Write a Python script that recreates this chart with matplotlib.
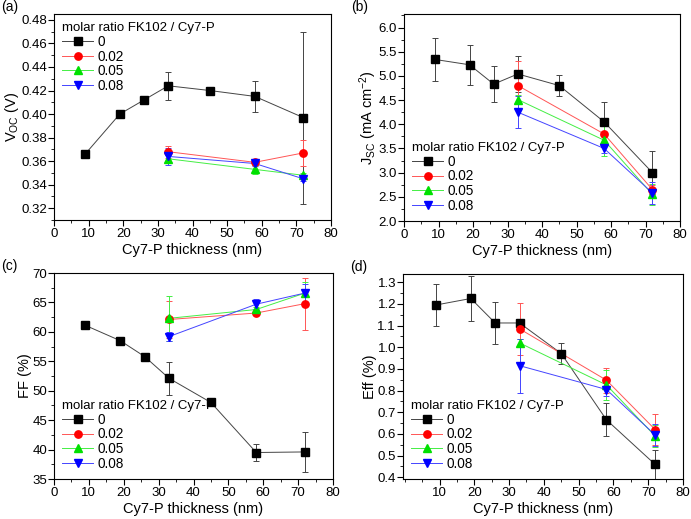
import numpy as np
import matplotlib
matplotlib.use("Agg")
import matplotlib.pyplot as plt
from matplotlib.lines import Line2D
from matplotlib.ticker import AutoMinorLocator

plt.rcParams['font.family'] = ['Liberation Sans', 'DejaVu Sans']
plt.rcParams['mathtext.fontset'] = 'custom'
plt.rcParams['mathtext.rm'] = 'Liberation Sans'
plt.rcParams['mathtext.it'] = 'Liberation Sans'

# thickness (nm)
x0 = [9, 19, 26, 33, 45, 58, 72]
x1 = [33, 58, 72]
ratios = ["0", "0.02", "0.05", "0.08"]

# (a) Voc (V)
voc = [[0.366, 0.400, 0.412, 0.424, 0.420, 0.415, 0.397],
       [0.368, 0.359, 0.367],
       [0.362, 0.353, 0.348],
       [0.364, 0.358, 0.345]]
voc_err = [[0.001, 0.0035, 0.001, 0.012, 0.001, 0.013, 0.073],
           [0.005, 0.002, 0.011],
           [0.004, 0.004, 0.002],
           [0.007, 0.002, 0.002]]

# (b) Jsc (mA cm-2)
jsc = [[5.34, 5.23, 4.83, 5.04, 4.80, 4.05, 3.00],
       [4.80, 3.80, 2.65],
       [4.51, 3.67, 2.55],
       [4.25, 3.50, 2.58]]
jsc_err = [[0.44, 0.41, 0.37, 0.38, 0.22, 0.41, 0.44],
           [0.51, 0.22, 0.10],
           [0.10, 0.32, 0.22],
           [0.33, 0.10, 0.22]]

# (c) FF (%)
ff = [[61.1, 58.5, 55.8, 52.1, 48.0, 39.5, 39.6],
      [62.1, 63.2, 64.8],
      [62.3, 63.8, 66.6],
      [59.2, 64.7, 66.6]]
ff_err = [[0.3, 0.2, 0.3, 2.8, 0.2, 1.5, 3.4],
          [3.2, 0.4, 4.4],
          [3.8, 0.5, 1.9],
          [0.8, 0.8, 1.5]]

# (d) Eff (%)
eff = [[1.195, 1.225, 1.112, 1.112, 0.971, 0.665, 0.459],
       [1.085, 0.848, 0.620],
       [1.020, 0.826, 0.590],
       [0.915, 0.805, 0.595]]
eff_err = [[0.098, 0.105, 0.098, 0.005, 0.05, 0.076, 0.065],
           [0.12, 0.058, 0.07],
           [0.02, 0.07, 0.05],
           [0.124, 0.03, 0.05]]

colors = ["black", "#ff0000", "#00e000", "#0000ff"]
linecols = ["#444444", "#ff5555", "#44ee44", "#4444ff"]
markers = ["s", "o", "^", "v"]


def draw_panel(ax, ys, errs, ylabel, ylim, yticks, xlim, xticks, loc, tag):
    handles = []
    for i in range(4):
        xs = x0 if i == 0 else x1
        ax.plot(xs, ys[i], color=linecols[i], lw=0.7, zorder=2)
        ax.errorbar(xs, ys[i], yerr=errs[i], fmt="none", ecolor=linecols[i],
                    elinewidth=0.7, capsize=2.5, capthick=0.7, zorder=2)
        ax.plot(xs, ys[i], ls="none", marker=markers[i], markersize=5.3,
                color=colors[i], zorder=3)
        handles.append(Line2D([], [], color=linecols[i], lw=0.7, marker=markers[i],
                              markersize=5.3, markerfacecolor=colors[i],
                              markeredgecolor=colors[i], label=ratios[i]))
    ax.set_xlim(xlim)
    ax.set_ylim(ylim)
    ax.set_xticks(xticks)
    ax.set_yticks(yticks)
    ax.xaxis.set_minor_locator(AutoMinorLocator(2))
    ax.yaxis.set_minor_locator(AutoMinorLocator(2))
    ax.tick_params(which="major", length=4, labelsize=9.5)
    ax.tick_params(axis="x", pad=2)
    ax.tick_params(axis="y", pad=1)
    ax.tick_params(which="minor", length=2)
    ax.set_xlabel("Cy7-P thickness (nm)", fontsize=10.5, labelpad=2)
    ax.set_ylabel(ylabel, fontsize=10.5, labelpad=0)
    leg = ax.legend(handles=handles, title="molar ratio FK102 / Cy7-P", loc=loc,
                    frameon=False, fontsize=9.8, title_fontsize=9.5,
                    handlelength=2.3, handletextpad=0.3, labelspacing=0.05,
                    borderaxespad=0.3, borderpad=0.3)
    leg._legend_box.align = "left"
    ax.text(-0.19, 1.0, tag, transform=ax.transAxes, fontsize=10, va="bottom")


fig = plt.figure(figsize=(6.91, 5.19), dpi=100)
ax_a = fig.add_axes([54/691, 1-220/519, 277/691, 206/519])
ax_b = fig.add_axes([404/691, 1-221/519, 276/691, 207/519])
ax_c = fig.add_axes([54/691, 1-479/519, 279/691, 206/519])
ax_d = fig.add_axes([403/691, 1-479/519, 280/691, 205/519])

draw_panel(ax_a, voc, voc_err, "V$_{\\rm OC}$ (V)", (0.31, 0.485),
           np.arange(0.32, 0.481, 0.02), (0, 80), range(0, 81, 10), "upper left", "(a)")
ax_a.set_yticklabels(["%.2f" % v for v in np.arange(0.32, 0.481, 0.02)])
draw_panel(ax_b, jsc, jsc_err, "J$_{\\rm SC}$ (mA cm$^{-2}$)", (2.0, 6.28),
           np.arange(2.0, 6.01, 0.5), (0, 80), range(0, 81, 10), "lower left", "(b)")
ax_b.set_yticklabels(["%.1f" % v for v in np.arange(2.0, 6.01, 0.5)])
draw_panel(ax_c, ff, ff_err, "FF (%)", (35, 70), range(35, 71, 5),
           (0, 80), range(0, 81, 10), "lower left", "(c)")
draw_panel(ax_d, eff, eff_err, "Eff (%)", (0.392, 1.338),
           np.arange(0.4, 1.31, 0.1), (-0.5, 80), range(10, 81, 10), "lower left", "(d)")
ax_d.set_yticklabels(["%.1f" % v for v in np.arange(0.4, 1.31, 0.1)])

fig.savefig("out.png", dpi=100)
